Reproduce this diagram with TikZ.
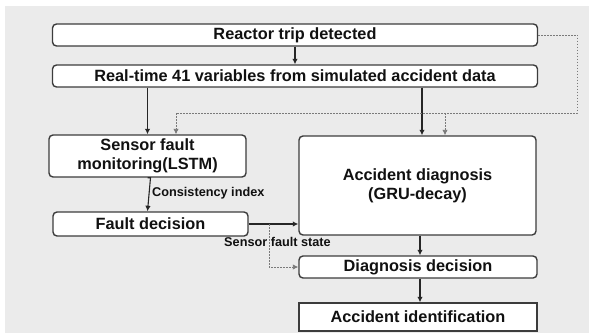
\documentclass[tikz,border=0pt]{standalone}
\usepackage{fontspec}
\setmainfont{Liberation Sans}
\usetikzlibrary{arrows.meta,calc}
\definecolor{bggray}{HTML}{EBEBEB}
\definecolor{edgegray}{HTML}{3C3C3C}
\definecolor{dotgray}{HTML}{7A7A7A}
\definecolor{txt}{HTML}{111111}
\tikzset{
  box/.style={draw=edgegray, line width=1.4pt, fill=white, rounded corners=4pt,
    inner sep=0pt, align=center, text=txt, font=\bfseries\fontsize{16.3}{19}\selectfont},
  sqbox/.style={box, rounded corners=0pt},
  conn/.style={draw=black!85, line width=1.1pt, -{Latex[length=5.5pt,width=5.5pt]}},
  dotconn/.style={draw=dotgray, line width=0.9pt, dash pattern=on 1.5pt off 1.5pt},
  dotarrow/.style={dotconn, -{Latex[length=5.5pt,width=5.5pt]}},
  lab/.style={text=txt, font=\bfseries\fontsize{12.7}{14}\selectfont, inner sep=0pt}
}
\begin{document}
\begin{tikzpicture}[x=1pt,y=-1pt]
\useasboundingbox (0,0) rectangle (589,333);
\fill[bggray] (4.5,6) rectangle (589,332.5);

\node[box, minimum width=485pt, minimum height=22pt] (reactor) at (295,35) {Reactor trip detected};
\node[box, minimum width=485pt, minimum height=22pt] (realtime) at (295,76) {Real-time 41 variables from simulated accident data};
\node[box, minimum width=197pt, minimum height=42pt] (sensor) at (147.5,156) {Sensor fault\\monitoring(LSTM)};
\node[box, minimum width=195pt, minimum height=24pt] (fault) at (150.5,224) {Fault decision};
\node[box, minimum width=237pt, minimum height=99pt] (accdiag) at (417.5,185.5) {Accident diagnosis\\(GRU-decay)};
\node[box, minimum width=238pt, minimum height=22pt] (diagdec) at (418,267) {Diagnosis decision};
\node[sqbox, minimum width=238pt, minimum height=28pt] (accid) at (418,317) {Accident identification};

\coordinate (dC) at (577.5,113);
\coordinate (dL) at (176,113);
\coordinate (dM) at (445,113);
\coordinate (fT) at (269,224);
\coordinate (fB) at (269,267);

% solid connectors
\draw[conn] (reactor) -- (realtime);
\draw[conn] (sensor.north |- realtime.south) -- (sensor.north);
\draw[conn] ([xshift=4.5pt]accdiag.north |- realtime.south) -- ([xshift=4.5pt]accdiag.north);
\draw[conn] (sensor.south) -- (fault.north |- sensor.south) -- ([xshift=-3pt]fault.north);
\draw[conn] (fault.east) -- (fault.east -| accdiag.west);
\draw[conn] ([xshift=2.5pt]accdiag.south) -- ([xshift=2pt]diagdec.north);
\draw[conn] ([xshift=2pt]diagdec.south) -- ([xshift=2pt]accid.north);

% dotted connectors
\draw[dotconn] (reactor.east) -| (dC) -- (dL);
\draw[dotarrow] (dL) -- (dL |- sensor.north);
\draw[dotarrow] (dM) -- (dM |- accdiag.north);
\draw[dotarrow] (fT) -- (fB) -- (diagdec.west);

% labels
\node[lab, anchor=west] (ci) at (152,193) {Consistency index};
\node[lab] (sfs) at (277.5,242) {Sensor fault state};
\end{tikzpicture}
\end{document}
